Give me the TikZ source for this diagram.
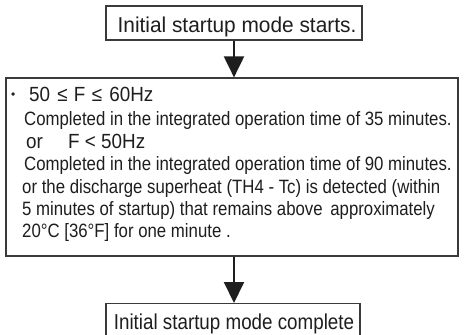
\documentclass[tikz,border=0pt]{standalone}
\usepackage{fontspec}
\setmainfont{Liberation Sans}
\newfontfamily\narrowfont{Liberation Sans}[FakeStretch=0.87]
\newfontfamily\midfont{Liberation Sans}[FakeStretch=0.92]
\newfontfamily\wideishfont{Liberation Sans}[FakeStretch=0.97]
\usetikzlibrary{arrows.meta}
\definecolor{ink}{HTML}{1E1E1E}
\definecolor{frame}{HTML}{3A3A3A}
\tikzset{
  boxframe/.style={draw=frame, line width=1.2pt, inner sep=0pt},
  flowarrow/.style={draw=ink, line width=2pt, -{Triangle[width=20pt,length=21pt]}},
  toptext/.style={inner sep=0pt, anchor=base, text=ink, font=\wideishfont\fontsize{21.5}{24}\selectfont},
  bottext/.style={inner sep=0pt, anchor=base, text=ink, font=\narrowfont\fontsize{21.6}{24}\selectfont},
  linetext/.style={inner sep=0pt, anchor=base west, text=ink, font=\narrowfont\fontsize{19.3}{22}\selectfont},
  headtext/.style={inner sep=0pt, anchor=base west, text=ink, font=\midfont\fontsize{20.5}{22}\selectfont}
}
\begin{document}
\begin{tikzpicture}[x=1pt,y=-1pt]
\clip (0,0) rectangle (464,335);
\fill[white] (0,0) rectangle (464,335);
% top box
\node[boxframe, minimum width=256pt, minimum height=34pt] (start) at (234,23) {};
\node[toptext] (starttext) at (237,32) {Initial startup mode starts.};
% big box
\node[boxframe, minimum width=452pt, minimum height=178pt] (cond) at (232,167) {};
\node[inner sep=0pt, anchor=base west, text=ink, font=\fontsize{12}{14}\selectfont] (bullet) at (11,98) {•};
\node[headtext] (l1) at (29,101) {50\hspace{2pt} ≤ \hspace{1pt}F\hspace{1pt} ≤ \hspace{2pt}60Hz};
\node[linetext] (l2) at (24,125) {Completed in the integrated operation time of 35 minutes.};
\node[headtext] (l3) at (26,148) {\makebox[42pt][l]{or}F < 50Hz};
\node[linetext] (l4) at (24,170) {Completed in the integrated operation time of 90 minutes.};
\node[linetext] (l5) at (22,193) {or the discharge superheat (TH4 - Tc) is detected (within};
\node[linetext] (l6) at (22,215) {5 minutes of startup) that remains above\hspace{3pt} approximately};
\node[linetext] (l7) at (22,237) {20°C [36°F] for one minute .};
% bottom box
\node[boxframe, anchor=north, minimum width=254pt, minimum height=50pt] (done) at (233,303) {};
\node[bottext] (donetext) at (234,329) {Initial startup mode complete};
% arrows
\draw[flowarrow] (start.south) -- (start.south |- cond.north);
\draw[flowarrow] (start.south |- cond.south) -- (start.south |- done.north);
\end{tikzpicture}
\end{document}
